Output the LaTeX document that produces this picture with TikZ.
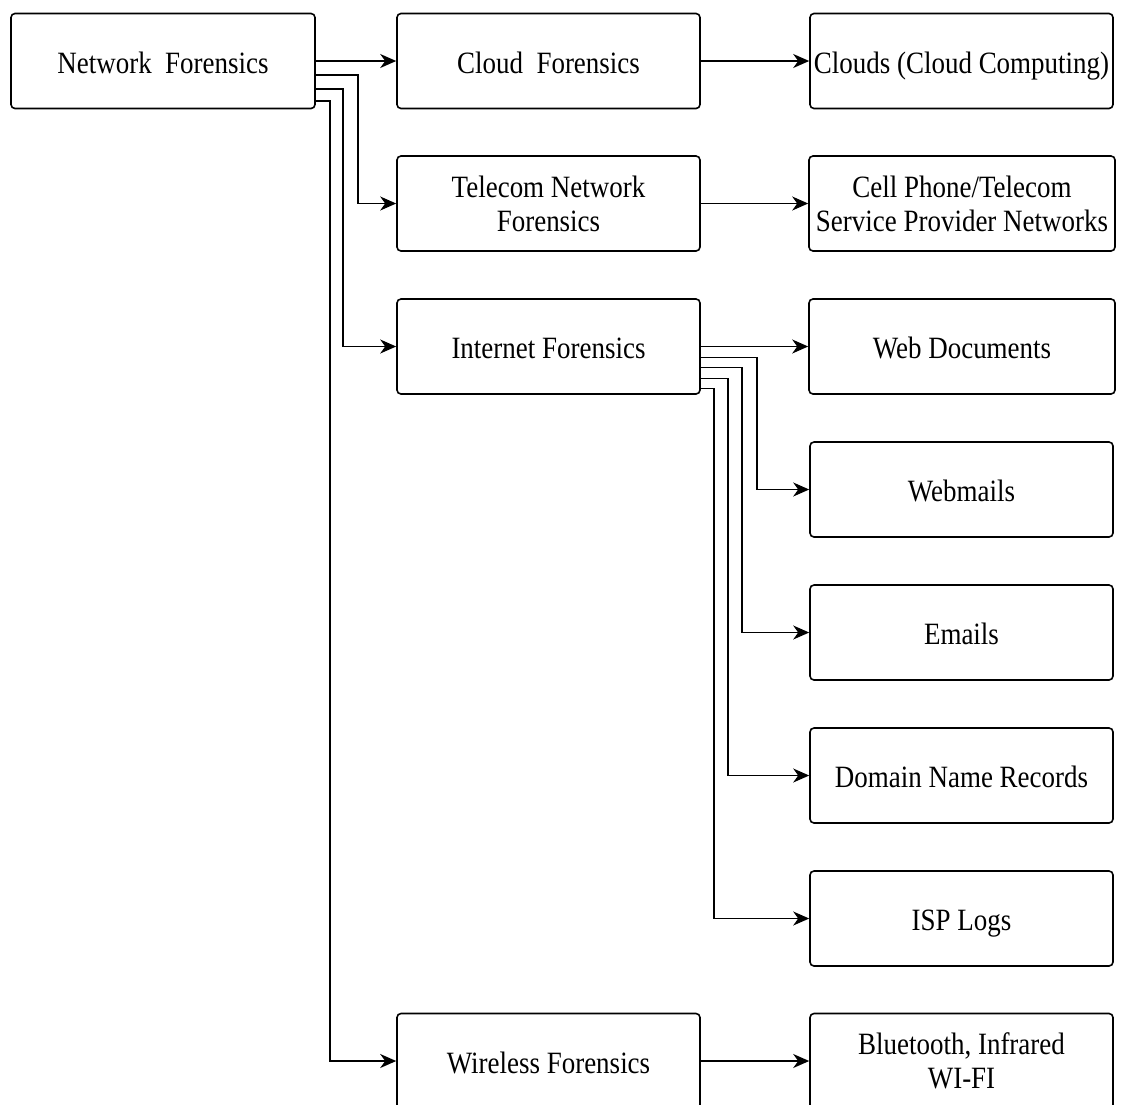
\documentclass[tikz,border=0pt]{standalone}
\usepackage{fontspec}
\setmainfont{Liberation Serif}[FakeStretch=0.87]
\usetikzlibrary{arrows.meta,calc}

\begin{document}
\begin{tikzpicture}[x=1pt,y=-1pt,
  box/.style={draw, rounded corners=4pt, line width=1.6pt,
    minimum width=303pt, minimum height=95pt, inner sep=0pt,
    align=center, font=\fontsize{31}{34}\selectfont},
  one/.style={text height=30pt, text depth=6pt},
  wide/.style={minimum width=306pt},
  link/.style={line width=1.7pt, -{Stealth[length=16pt,width=14pt,inset=5pt]}}]
  \useasboundingbox (0,0) rectangle (1122,1104);
  \clip (0,0) rectangle (1122,1104);

  % first level
  \node[box, one, minimum width=304pt] (nf) at (163,61) {Network\ \ Forensics};
  \node[box, one] (cf) at (548.5,61) {Cloud\ \ Forensics};
  \node[box] (tn) at (548.5,203.5) {Telecom Network\\Forensics};
  \node[box, one] (inf) at (548.5,346.5) {Internet Forensics};
  \node[box, one] (wf) at (548.5,1061) {Wireless Forensics};

  % targets
  \node[box, one] (cc) at (961.5,61) {\makebox[0pt]{Clouds (Cloud Computing)}};
  \node[box, wide] (cp) at (962,203.5) {Cell Phone/Telecom\\Service Provider Networks};
  \node[box, one, wide] (wd) at (962,346.5) {Web Documents};
  \node[box, one] (wm) at (961.5,489.5) {Webmails};
  \node[box, one] (em) at (961.5,632.5) {Emails};
  \node[box, one] (dn) at (961.5,775.5) {Domain Name Records};
  \node[box, one] (isp) at (961.5,918.5) {ISP Logs};
  \node[box] (bt) at (961.5,1061) {Bluetooth, Infrared\\WI-FI};

  % branches of Network Forensics
  \draw[link] (nf.east) -- (cf.west);
  \draw[link] ($(nf.east)+(0,14)$) -- ++(42,0) |- (tn.west);
  \draw[link] ($(nf.east)+(0,28)$) -- ++(27,0) |- (inf.west);
  \draw[link] ($(nf.east)+(0,40)$) -- ++(14,0) |- (wf.west);

  % straight links
  \draw[link] (cf.east) -- (cc.west);
  \draw[link] (tn.east) -- (cp.west);
  \draw[link] (wf.east) -- (bt.west);

  % branches of Internet Forensics
  \draw[link] (inf.east) -- (wd.west);
  \draw[link] ($(inf.east)+(0,11)$) -- ++(56,0) |- (wm.west);
  \draw[link] ($(inf.east)+(0,21)$) -- ++(41,0) |- (em.west);
  \draw[link] ($(inf.east)+(0,32)$) -- ++(27,0) |- (dn.west);
  \draw[link] ($(inf.east)+(0,42)$) -- ++(13,0) |- (isp.west);
\end{tikzpicture}
\end{document}
